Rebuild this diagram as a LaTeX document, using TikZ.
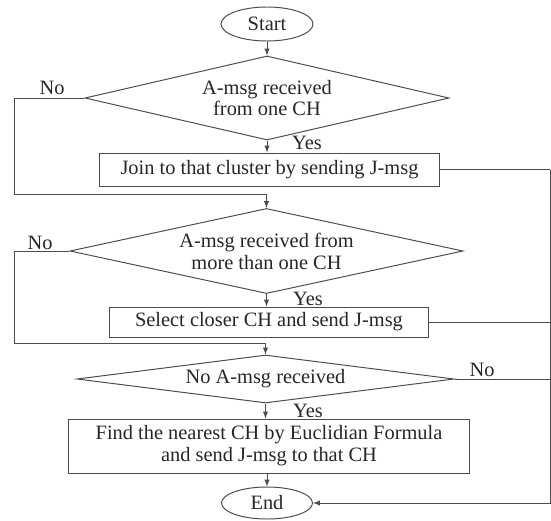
\documentclass[tikz,border=0pt]{standalone}
\usepackage{fontspec}
\setmainfont{Liberation Serif}
\usetikzlibrary{shapes.geometric,arrows}

\tikzstyle{terminal} = [ellipse,draw,inner sep=0pt]
\tikzstyle{decision} = [diamond,draw,inner sep=0pt,align=center]
\tikzstyle{process} = [rectangle,draw,inner sep=0pt,align=center]
\tikzstyle{edge} = [-latex,line width=.7pt]
\tikzstyle{line} = [line width=.7pt]
\tikzstyle{answer} = [inner sep=0pt]

\begin{document}
\begin{tikzpicture}[x=.025cm,y=-.025cm,black!70,line width=.7pt,
    every node/.style={font=\fontsize{14.5}{15.6}\selectfont,text=black!85}]
\useasboundingbox (0,0) rectangle (551,520);

% vertices
\node[terminal,minimum width=2.3cm,minimum height=.85cm] (start) at (267,24) {Start};
\node[decision,aspect=4.33,minimum width=9.1cm,minimum height=2.1cm] (d1) at (267,98) {A-msg received\\from one CH};
\node[process,minimum width=8.475cm,minimum height=.825cm] (b1) at (269.5,169.5) {Join to that cluster by sending J-msg};
\node[decision,aspect=4.6,minimum width=9.825cm,minimum height=2.125cm] (d2) at (266.5,251) {A-msg received from\\more than one CH};
\node[process,minimum width=7.95cm,minimum height=.75cm] (b2) at (269,322) {Select closer CH and send J-msg};
\node[decision,aspect=7.85,minimum width=9.425cm,minimum height=1.2cm] (d3) at (265.5,379) {No A-msg received};
\node[process,minimum width=10cm,minimum height=1.35cm] (b3) at (269,446) {Find the nearest CH by Euclidian Formula\\and send J-msg to that CH};
\node[terminal,minimum width=2.275cm,minimum height=.8cm] (end) at (267,503) {End};

% answers
\node[answer] (no1) at (52,88) {No};
\node[answer] (yes1) at (307,143) {Yes};
\node[answer] (no2) at (40,243) {No};
\node[answer] (yes2) at (308,299) {Yes};
\node[answer] (no3) at (482,370) {No};
\node[answer] (yes3) at (308,411) {Yes};

% corners
\coordinate (k1) at (14,194);
\coordinate (k2) at (14,343);
\coordinate (rail) at (550,0);

% edges
\draw[edge] (start) -- (d1);
\draw[edge] (d1.south) -- (d1.south |- b1.north);
\draw[edge] (d1.west) -| (k1) -- (k1 -| d2.north) -- (d2.north);
\draw[edge] (d2.south) -- (d2.south |- b2.north);
\draw[edge] (d2.west) -| (k2) -- (k2 -| d3.north) -- (d3.north);
\draw[edge] (d3.south) -- (d3.south |- b3.north);
\draw[edge] (b3.south -| end.north) -- (end.north);

\draw[line] (b1.east) -- (b1.east -| rail);
\draw[line] (b2.east) -- (b2.east -| rail);
\draw[line] (d3.east) -- (d3.east -| rail);
\draw[edge] (b1.east -| rail) -- (end.east -| rail) -- (end.east);

\end{tikzpicture}
\end{document}
